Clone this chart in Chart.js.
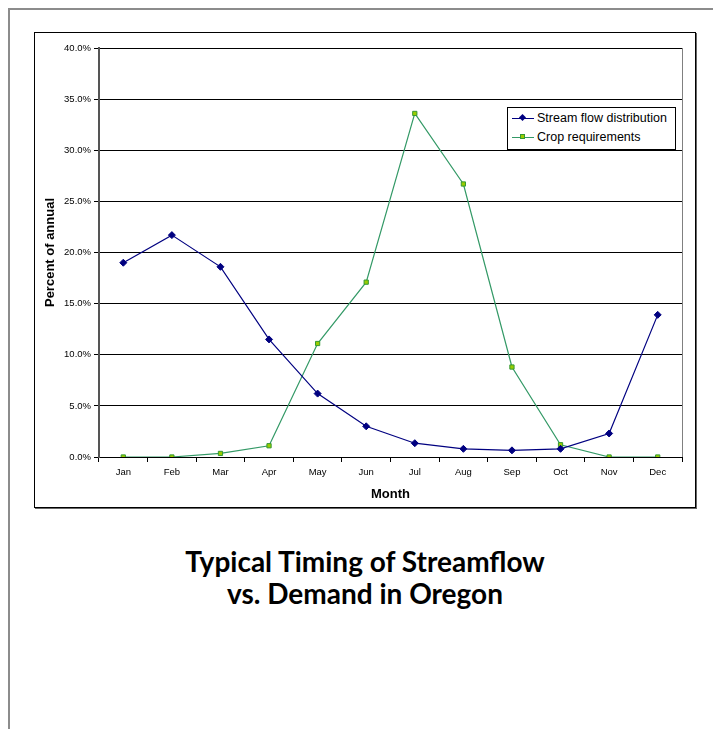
<!DOCTYPE html>
<html>
<head>
<meta charset="utf-8">
<script src="https://cdn.jsdelivr.net/npm/chart.js@4.4.1/dist/chart.umd.min.js"></script>
<style>
    body { margin: 0; background: #fff; width: 713px; height: 729px; overflow: hidden; position: relative; }
    #frame { position: absolute; left: 8px; top: 8px; width: 800px; height: 800px; border-left: 2px solid #8c8c8c; border-top: 2px solid #8c8c8c; }
    #box { position: absolute; left: 34px; top: 32px; width: 660px; height: 474px; border: 1px solid #000; box-shadow: 1px 1px 0 #666; }
    #chart { position: absolute; left: 0; top: 0; }
    #legend { position: absolute; left: 472px; top: 74px; width: 167px; border: 1px solid #000; background: #fff; font: 12.5px "Liberation Sans", Arial, sans-serif; padding: 1px 0 2px 0; }
    .item { height: 19px; line-height: 19px; white-space: nowrap; position: relative; padding-left: 29px; }
    .item .ln { position: absolute; left: 4px; top: 9px; width: 22px; height: 1px; }
    .item .mk { position: absolute; left: 12px; top: 6px; width: 5px; height: 5px; }
    #title { position: absolute; left: 34px; top: 545px; width: 662px; text-align: center; font: bold 28px Lato, "Open Sans", sans-serif; line-height: 32px; color: #000; }
</style>
</head>
<body>
<div id="frame"></div>
<div id="box">
    <canvas id="chart" width="660" height="474"></canvas>
    <div id="legend"></div>
</div>
<div id="title">Typical Timing of Streamflow<br>vs. Demand in Oregon</div>
<script>
const months = ['Jan', 'Feb', 'Mar', 'Apr', 'May', 'Jun', 'Jul', 'Aug', 'Sep', 'Oct', 'Nov', 'Dec'];
const streamFlow = [19.0, 21.7, 18.6, 11.5, 6.2, 3.0, 1.35, 0.8, 0.65, 0.8, 2.3, 13.9];
const cropNeeds = [0.0, 0.0, 0.35, 1.1, 11.1, 17.1, 33.6, 26.7, 8.8, 1.2, 0.0, 0.0];
const seriesNames = ['Stream flow distribution', 'Crop requirements'];
const yTicks = [0, 5, 10, 15, 20, 25, 30, 35, 40];

const tickFont = { family: '"Liberation Sans", Arial, sans-serif', size: 9.5 };
const titleFont = { family: '"Liberation Sans", Arial, sans-serif', size: 13, weight: 'bold' };

// right edge of the plot area
const plotBorder = {
    id: 'plotBorder',
    afterDraw(chart) {
        const a = chart.chartArea;
        const c = chart.ctx;
        c.save();
        c.strokeStyle = '#808080';
        c.lineWidth = 1;
        c.beginPath();
        c.moveTo(Math.round(a.right) + 0.5, a.top);
        c.lineTo(Math.round(a.right) + 0.5, a.bottom);
        c.stroke();
        c.restore();
    }
};

const ctx = document.getElementById('chart').getContext('2d');
const chart = new Chart(ctx, {
    type: 'line',
    data: {
        labels: months,
        datasets: [{
            label: seriesNames[0],
            data: streamFlow,
            borderColor: '#000080',
            backgroundColor: '#000080',
            borderWidth: 1.2,
            pointStyle: 'rectRot',
            pointRadius: 3.5,
            pointBorderWidth: 1,
            tension: 0
        }, {
            label: seriesNames[1],
            data: cropNeeds,
            borderColor: '#339966',
            backgroundColor: '#99cc00',
            pointBorderColor: '#339933',
            borderWidth: 1.2,
            pointStyle: 'rect',
            pointRadius: 3,
            pointBorderWidth: 1,
            tension: 0
        }]
    },
    options: {
        responsive: false,
        animation: false,
        layout: { padding: { top: 15, right: 13, left: 0, bottom: 0 } },
        plugins: {
            legend: { display: false },
            tooltip: { enabled: false }
        },
        scales: {
            x: {
                offset: true,
                grid: { offset: true, drawOnChartArea: false, drawTicks: true, tickLength: 5, color: '#000' },
                border: { display: true, color: '#000', width: 1 },
                ticks: { font: tickFont, color: '#000', padding: 5, maxRotation: 0 },
                title: { display: true, text: 'Month', font: titleFont, color: '#000', padding: { top: 0, bottom: 5 } },
                afterFit(scale) { scale.height = 50; }
            },
            y: {
                min: 0,
                max: 40,
                afterBuildTicks(scale) { scale.ticks = yTicks.map(v => ({ value: v })); },
                grid: { color: '#000', lineWidth: 1, tickLength: 5 },
                border: { display: true, color: '#555', width: 2 },
                ticks: {
                    font: tickFont,
                    color: '#000',
                    padding: 3,
                    callback: function(value) {
                        return value.toFixed(1) + '%';
                    }
                },
                title: { display: true, text: 'Percent of annual', font: titleFont, color: '#000', padding: { top: 8, bottom: 0 } },
                afterFit(scale) { scale.width = 64; }
            }
        }
    },
    plugins: [plotBorder]
});

// html legend, line with marker like the original
const legend = document.getElementById('legend');
chart.data.datasets.forEach(ds => {
    const item = document.createElement('div');
    item.className = 'item';
    const ln = document.createElement('span');
    ln.className = 'ln';
    ln.style.background = ds.borderColor;
    const mk = document.createElement('span');
    mk.className = 'mk';
    mk.style.background = ds.backgroundColor;
    if (ds.pointStyle === 'rectRot') {
        mk.style.transform = 'rotate(45deg)';
    } else {
        mk.style.boxSizing = 'border-box';
        mk.style.border = '1px solid ' + ds.pointBorderColor;
    }
    item.appendChild(ln);
    item.appendChild(mk);
    item.appendChild(document.createTextNode(ds.label));
    legend.appendChild(item);
});
</script>
</body>
</html>
